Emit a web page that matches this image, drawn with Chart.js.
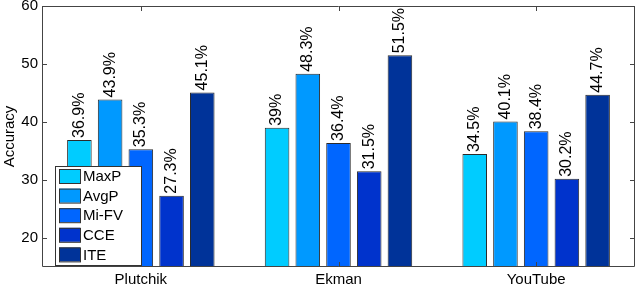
<!DOCTYPE html>
<html>
<head>
<meta charset="utf-8">
<script src="https://cdn.jsdelivr.net/npm/chart.js@4"></script>
<style>
  html, body { margin: 0; padding: 0; background: #fff; }
  #wrap { width: 640px; height: 303px; }
</style>
</head>
<body>
<div id="wrap"><canvas id="accChart" width="640" height="303"></canvas></div>
<script>
const categories = ['Plutchik', 'Ekman', 'YouTube'];
const methods = ['MaxP', 'AvgP', 'Mi-FV', 'CCE', 'ITE'];
const maxP = [36.9, 39.0, 34.5];
const avgP = [43.9, 48.3, 40.1];
const miFV = [35.3, 36.4, 38.4];
const cce = [27.3, 31.5, 30.2];
const ite = [45.1, 51.5, 44.7];
const barLabels = [
    ['36.9%', '39%', '34.5%'],
    ['43.9%', '48.3%', '40.1%'],
    ['35.3%', '36.4%', '38.4%'],
    ['27.3%', '31.5%', '30.2%'],
    ['45.1%', '51.5%', '44.7%']
];
const yTicks = [20, 30, 40, 50, 60];
const colors = ['#00ccff', '#0099ff', '#0066ff', '#0033cc', '#003399'];

const FONT = '"Liberation Sans", Arial, sans-serif';
const AXIS = '#444444';

// labels above bars, frame, inward ticks and legend box
const extras = {
    id: 'extras',
    afterDatasetsDraw(chart) {
        const ctx = chart.ctx;
        ctx.save();
        ctx.font = '16px ' + FONT;
        ctx.fillStyle = '#000';
        ctx.textAlign = 'left';
        ctx.textBaseline = 'middle';
        chart.data.datasets.forEach((ds, i) => {
            chart.getDatasetMeta(i).data.forEach((bar, j) => {
                ctx.save();
                ctx.translate(bar.x, bar.y - 2);
                ctx.rotate(-Math.PI / 2);
                ctx.fillText(barLabels[i][j], 0, 0);
                ctx.restore();
            });
        });
        ctx.restore();
    },
    afterDraw(chart) {
        const ctx = chart.ctx;
        const a = chart.chartArea;
        const y = chart.scales.y, x = chart.scales.x;
        ctx.save();
        ctx.strokeStyle = AXIS;
        ctx.lineWidth = 1;
        ctx.beginPath();
        ctx.moveTo(a.left + 0.5, a.top + 0.5);
        ctx.lineTo(a.right - 0.5, a.top + 0.5);
        ctx.lineTo(a.right - 0.5, a.bottom - 0.5);
        ctx.lineTo(a.left + 0.5, a.bottom - 0.5);
        ctx.closePath();
        yTicks.forEach(v => {
            const py = Math.round(y.getPixelForValue(v)) + 0.5;
            ctx.moveTo(a.left, py); ctx.lineTo(a.left + 5, py);
            ctx.moveTo(a.right, py); ctx.lineTo(a.right - 5, py);
        });
        categories.forEach((c, i) => {
            const px = Math.round(x.getPixelForValue(i)) + 0.5;
            ctx.moveTo(px, a.top); ctx.lineTo(px, a.top + 5);
            ctx.moveTo(px, a.bottom); ctx.lineTo(px, a.bottom - 5);
        });
        ctx.stroke();

        // legend
        const lx = a.left + 13, ly = a.bottom - 101;
        const lw = 86, lh = 99;
        ctx.fillStyle = '#fff';
        ctx.fillRect(lx, ly, lw, lh);
        ctx.strokeStyle = '#333';
        ctx.strokeRect(lx + 0.5, ly + 0.5, lw, lh);
        ctx.font = '15px ' + FONT;
        ctx.textAlign = 'left';
        ctx.textBaseline = 'middle';
        methods.forEach((m, i) => {
            const cy = ly + 10 + i * 19.6;
            ctx.fillStyle = colors[i];
            ctx.fillRect(lx + 4, cy - 7, 21, 14);
            ctx.strokeStyle = '#333';
            ctx.strokeRect(lx + 4.5, cy - 6.5, 21, 14);
            ctx.fillStyle = '#000';
            ctx.fillText(m, lx + 28, cy + 1);
        });
        ctx.restore();
    }
};

const seriesValues = [maxP, avgP, miFV, cce, ite];

new Chart(document.getElementById('accChart'), {
    type: 'bar',
    data: {
        labels: categories,
        datasets: methods.map((m, i) => ({
            label: m,
            data: seriesValues[i],
            backgroundColor: colors[i],
            borderColor: '#2b2b2b',
            borderWidth: 1,
            borderSkipped: false,
            categoryPercentage: 0.777,
            barPercentage: 0.8
        }))
    },
    options: {
        responsive: false,
        animation: false,
        layout: { padding: { left: 0, right: 5, top: 6, bottom: 0 } },
        scales: {
            x: {
                grid: { display: false, drawTicks: false },
                border: { display: false },
                ticks: { color: '#000', padding: 4, font: { family: FONT, size: 15 } },
                afterFit(scale) {
                    scale.height = 36;
                    scale.paddingLeft = 0;
                    scale.paddingRight = 0;
                }
            },
            y: {
                min: 15,
                max: 60,
                afterBuildTicks(scale) { scale.ticks = yTicks.map(v => ({ value: v })); },
                grid: { display: false, drawTicks: false },
                border: { display: false },
                ticks: { color: '#000', padding: 4, font: { family: FONT, size: 15 } },
                title: {
                    display: true,
                    text: 'Accuracy',
                    color: '#000',
                    padding: { top: 1, bottom: 0 },
                    font: { family: FONT, size: 15 }
                },
                afterFit(scale) {
                    scale.width = 42;
                    scale.paddingTop = 0;
                    scale.paddingBottom = 0;
                }
            }
        },
        plugins: {
            legend: { display: false },
            tooltip: { enabled: false }
        }
    },
    plugins: [extras]
});
</script>
</body>
</html>
